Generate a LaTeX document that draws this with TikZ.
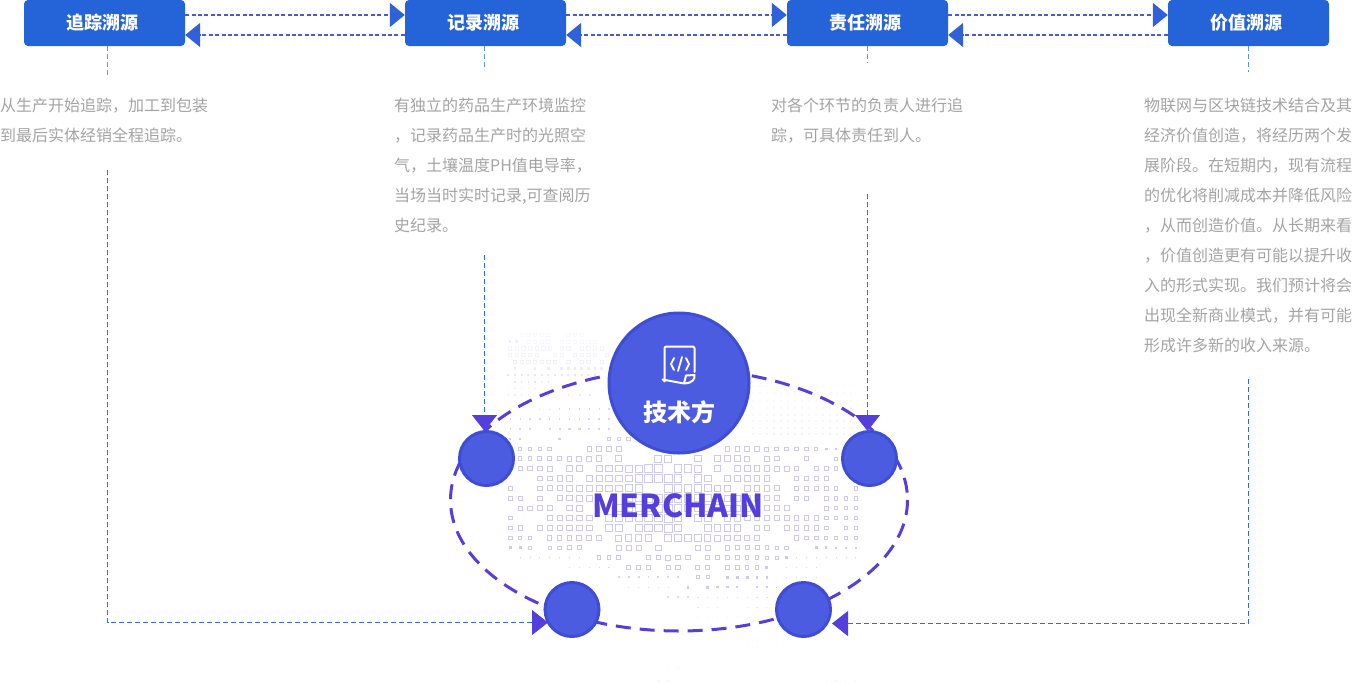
\documentclass[tikz,border=0pt]{standalone}
\usepackage{fontspec}
\setmainfont{Noto Sans CJK SC}
\usetikzlibrary{arrows.meta}
\definecolor{boxblue}{HTML}{2563D9}
\definecolor{dashblue}{HTML}{4B57DE}
\definecolor{tipblue}{HTML}{2F62DA}
\definecolor{thinblue}{HTML}{2F6BDC}
\definecolor{purple}{HTML}{553FDC}
\definecolor{discfill}{HTML}{4C5CE0}
\definecolor{discline}{HTML}{3E4CD6}
\definecolor{grey}{HTML}{A3A3A3}
\definecolor{mapc}{HTML}{CECAEB}
\newcommand\boxlabel[1]{\hspace*{-5pt}\raisebox{-2.5pt}{#1}}
\tikzset{
  x=1pt,y=-1pt,
  titlebox/.style={fill=boxblue,rounded corners=4pt,minimum width=161pt,minimum height=46pt,inner sep=0pt,text=white,font=\fontsize{18}{20}\selectfont\bfseries},
  hop/.style={dashblue,line width=1.4pt,dash pattern=on 4pt off 2.4pt},
  fwdtip/.style={-{Triangle[length=15pt,width=24pt,color=tipblue]}},
  thin conn/.style={thinblue,line width=.9pt,dash pattern=on 5pt off 3pt},
  lead/.style={thinblue!75,line width=.9pt,dash pattern=on 5pt off 3pt},
  intip/.style={-{Triangle[length=16pt,width=25pt,color=purple]}},
  desc/.style={anchor=north west,inner sep=0pt,align=left,text=grey,font=\fontsize{16}{30}\selectfont},
  disc/.style={circle,fill=discfill,draw=discline,line width=3pt,inner sep=0pt,minimum size=54pt},
  bigdisc/.style={circle,fill=discfill,draw=discline,line width=3pt,inner sep=0pt,minimum size=140pt},
}
% generic map row: y, size factor, opacity, list
\newcommand\maprow[4]{%
  \foreach \c in {#4}{%
    \pgfmathsetmacro\s{#2*max(3.5,8-4.5*abs(\c-16)/17)}%
    \pgfmathsetmacro\xx{510.3+9.87*\c}%
    \ifdim\s pt<3pt
      \fill[mapc,opacity=#3] ({\xx-\s/2},{#1-\s/2}) rectangle ++(\s,\s);
    \else
      \draw[mapc,opacity=#3,line width=1pt] ({\xx-\s/2},{#1-\s/2}) rectangle ++(\s,\s);
    \fi
  }%
}
\newcommand\maptop[4]{%
  \foreach \c in {#4}{%
    \pgfmathsetmacro\xx{500+\c/3}%
    \ifdim#2pt<3pt
      \fill[mapc,opacity=#3] ({\xx-#2/2},{#1-#2/2}) rectangle ++(#2,#2);
    \else
      \draw[mapc,opacity=#3,line width=.7pt] ({\xx-#2/2},{#1-#2/2}) rectangle ++(#2,#2);
    \fi
  }%
}
\begin{document}
\begin{tikzpicture}
\useasboundingbox (0,0) rectangle (1352,683);
% dotted world map
\maptop{335}{3.5}{.12}{65,85,105,125,145,205,225,245}
\maptop{341.7}{3.5}{.15}{85,105,125,145,185,205,225,245,265,285}
\maptop{341.7}{2.5}{.3}{30,50}
\maptop{348.3}{3.5}{.18}{30,50,70,90,110,130,150,185,205,245,265,285,305}
\maptop{355}{3.5}{.22}{30,50,70,90,110,165,185,225,245,265,285,320}
\maptop{361.7}{3.2}{.28}{45,65,85,105,125,145,165,205,245,265,305}
\maptop{368.3}{2.6}{.35}{45,105,145,185,205,225,245,265,285,305}
\maptop{375}{2.2}{.45}{25,45,65,85,105,125,145,165,185,205,225,245,265,285}
\maptop{381.7}{1.6}{.5}{45,65,85,105,125,145}
\maptop{388.3}{1.4}{.4}{25,45,65,85,105,125}
\maptop{395}{1.2}{.4}{25,45,65,85,145,205,240,270}
\maprow{409}{.2}{.8}{3,...,10}
\maprow{419}{.28}{.8}{0,...,10}
\maprow{429}{.4}{.8}{0,1,2,4,5,...,10}
\maprow{439}{.55}{.9}{0,1,5,10,11,12,17}
\maprow{449}{.75}{1}{1,2,3,4,8,9,10,11,22,23,24,25,26,27,28,29,30,31,32,33,34,35}
\maprow{458.7}{.9}{1}{1,2,...,9,11,15,16,19,21,22,23,24,26,27,30,33,35}
\maprow{468.6}{1}{1}{1,2,3,4,6,7,9,10,...,15,17,18,19,21,23,24,...,29,31,32,33}
\maprow{478.5}{1}{1}{3,4,5,6,8,9,...,17,19,20,22,23,...,26,29,30,31,32}
\maprow{488.4}{1}{1}{0,3,4,...,13,16,17,18,19,...,22,24,25,26,27,29,30,...,33,35}
\maprow{498.3}{1}{1}{0,1,3,5,6,7,8,12,13,14,15,16,17,18,19,20,21,22,23,24,25,26,27,29,30,32,33,34,35}
\maprow{508.2}{1}{1}{1,2,3,4,6,7,11,12,...,25,26,27,28,32,33,34,35}
\maprow{518}{1}{1}{0,4,5,6,7,8,10,11,...,17,19,20,22,23,...,35}
\maprow{528}{1}{1}{0,1,3,4,...,8,10,11,13,14,...,17,20,21,22,23,25,26,28,29,...,32,34,35}
\maprow{538}{.9}{1}{0,1,2,4,5,...,9,11,12,13,14,16,17,18,19,...,25,29,30,...,35}
\maprow{547.8}{.7}{1}{0,1,2,4,5,6,7,11,12,13,15,19,20,22,23,...,28,31,32,...,35}
\maprow{557.6}{.6}{1}{9,10,11,14,15,16,17,18,20,21,...,28}
\maprow{557.6}{.2}{1}{1,2,...,7,29,30,...,35}
\maprow{567.5}{.55}{1}{12,13,14,16,17,19,20,22,23,...,26}
\maprow{567.5}{.2}{.8}{6,7,...,10,28,29,30,31}
\maprow{577.3}{.45}{1}{19,20,22,23,24,25,26}
\maprow{577.3}{.25}{.8}{11,12,...,17,28,29,30,31}
\maprow{587.3}{.35}{1}{18,20,21,22,23,25,26}
\maprow{587.3}{.18}{.7}{12,13,...,16,27,28,...,31}
\maprow{597.3}{.22}{.7}{16,17,...,26}
\maprow{607.3}{.2}{.5}{19,20,21,24,25,26}
\maprow{617.3}{.18}{.3}{19,20,...,23}
\maprow{640}{.2}{.12}{23,24,...,34}
\maprow{646.7}{.2}{.1}{19,20,...,27}
\maprow{668}{.2}{.1}{15,16,17,32,33,34}
\maprow{681}{.3}{.15}{15,16,32,33,34,35}
% right faint field
\foreach \yy/\op in {386/.08,393/.1,401/.12,408/.14,415/.16,421/.18,428/.2,434/.22}{
  \foreach \xx in {753,760,...,855}{
    \fill[mapc,opacity=\op] ({\xx-.8},{\yy-.8}) rectangle ++(1.6,1.6);
  }
}
% dashed ellipse
\draw[purple,line width=3pt,dash pattern=on 15pt off 9pt] (679,500) ellipse [x radius=228.5,y radius=131];
% nodes
\node[titlebox] (b1) at (104.5,23) {\boxlabel{追踪溯源}};
\node[titlebox] (b2) at (485.5,23) {\boxlabel{记录溯源}};
\node[titlebox] (b3) at (867.5,23) {\boxlabel{责任溯源}};
\node[titlebox] (b4) at (1248.5,23) {\boxlabel{价值溯源}};
\node[bigdisc] (main) at (679,383) {};
\node[text=white,inner sep=0pt,font=\fontsize{24}{26}\selectfont\bfseries] (tech) at (679,412) {技术方};
\node[disc] (c1) at (486.5,458.5) {};
\node[disc] (c2) at (869.5,458.5) {};
\node[disc] (c3) at (572,609.5) {};
\node[disc] (c4) at (803.5,609.5) {};
\node[text=purple,inner sep=0pt,font=\fontsize{31.6}{35}\selectfont\bfseries] (mer) at (678,506) {MERCHAIN};
% icon
\draw[white,line width=2pt,line join=round,line cap=round]
  (694.5,372) -- (694.5,348.5) arc (0:-90:2) -- (666.5,346.5) arc (270:180:2) -- (664.5,381.5) arc (180:90:-2) -- (684,383.5)
  (684,383.5) .. controls (693,383) and (695,379) .. (694.5,375) -- (686,375.5) -- (684,383.5);
\draw[white,line width=1.8pt,line cap=round,line join=round]
  (674,358) -- (671,364) -- (674,370)
  (686,358) -- (689,364) -- (686,370)
  (682,357) -- (678,371);
% description texts
\node[desc] (t1) at (0,98) {从生产开始追踪，加工到包装\\到最后实体经销全程追踪。};
\node[desc] (t2) at (394,98) {有独立的药品生产环境监控\\，记录药品生产时的光照空\\气，土壤温度PH值电导率，\\当场当时实时记录,可查阅历\\史纪录。};
\node[desc] (t3) at (771,98) {对各个环节的负责人进行追\\踪，可具体责任到人。};
\node[desc] (t4) at (1144,98) {物联网与区块链技术结合及其\\经济价值创造，将经历两个发\\展阶段。在短期内，现有流程\\的优化将削减成本并降低风险\\，从而创造价值。从长期来看\\，价值创造更有可能以提升收\\入的形式实现。我们预计将会\\出现全新商业模式，并有可能\\形成许多新的收入来源。};
% hops between title boxes
\draw[hop,fwdtip] ([yshift=8pt]b1.east) -- ([yshift=8pt]b2.west);
\draw[hop,fwdtip] ([yshift=8pt]b2.east) -- ([yshift=8pt]b3.west);
\draw[hop,fwdtip] ([yshift=8pt]b3.east) -- ([yshift=8pt]b4.west);
\draw[hop,fwdtip] ([yshift=-12pt]b2.west) -- ([yshift=-12pt]b1.east);
\draw[hop,fwdtip] ([yshift=-12pt]b3.west) -- ([yshift=-12pt]b2.east);
\draw[hop,fwdtip] ([yshift=-12pt]b4.west) -- ([yshift=-12pt]b3.east);
% leads and connectors
\coordinate (l1a) at (107.5,76); \coordinate (l1b) at (107.5,170); \coordinate (l1c) at (107.5,622.5); \coordinate (e1) at (548,622.5);
\coordinate (l2s) at (484.5,46); \coordinate (l2a) at (484.5,70); \coordinate (l2b) at (484.5,255); \coordinate (e2) at (484.5,431);
\coordinate (l3s) at (867.5,46); \coordinate (l3a) at (867.5,63); \coordinate (l3b) at (867.5,194); \coordinate (e3) at (867.5,431);
\coordinate (l4s) at (1248.5,46); \coordinate (l4a) at (1248.5,72); \coordinate (l4b) at (1248.5,379); \coordinate (l4c) at (1248.5,623.5); \coordinate (e4) at (832,623.5);
\draw[lead] (b1.south -| l1a) -- (l1a);
\draw[lead] (l2s) -- (l2a);
\draw[lead] (l3s) -- (l3a);
\draw[lead] (l4s) -- (l4a);
\draw[thin conn,intip] (l1b) -- (l1c) -- (e1);
\draw[thin conn,intip] (l2b) -- (e2);
\draw[thin conn,intip] (l3b) -- (e3);
\draw[thin conn,intip] (l4b) -- (l4c) -- (e4);
\end{tikzpicture}
\end{document}
